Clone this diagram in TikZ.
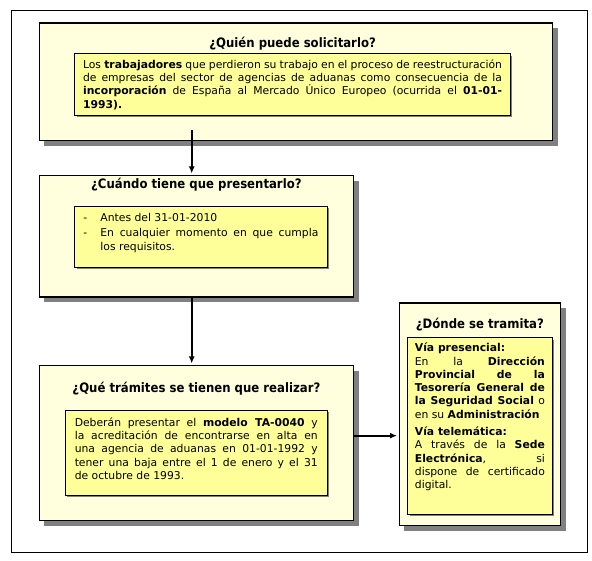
\documentclass[tikz,border=0pt]{standalone}
\usepackage{fontspec}
\setmainfont{DejaVu Sans}
\newfontfamily\titlefont{DejaVu Sans}[FakeStretch=0.9]
\usetikzlibrary{arrows.meta,positioning,shadows}
\definecolor{PaleYellow}{HTML}{FFFFDD}
\definecolor{Yellow}{HTML}{FFFF99}
\definecolor{Shadow}{HTML}{808080}
\newcommand{\listdash}{\hangindent=17pt\hangafter=1\noindent\makebox[17pt][l]{-}}
\tikzset{outerbox/.style={draw=black,line width=1.3pt,fill=PaleYellow,anchor=north west,inner sep=0pt,drop shadow={shadow xshift=5pt,shadow yshift=-5pt,fill=Shadow,opacity=1}},innerbox/.style={draw=black,line width=.8pt,fill=Yellow,anchor=north west,align=justify,inner ysep=0pt,font=\fontsize{10.8}{13.3}\selectfont,drop shadow={shadow xshift=2pt,shadow yshift=-2pt,fill=Shadow,opacity=1}},title/.style={font=\titlefont\fontsize{13}{15}\selectfont\bfseries,inner sep=0pt},flow/.style={-{Latex[length=7pt,width=6pt]},line width=1.8pt,draw=black,shorten >=1.5pt}}

\begin{document}
\begin{tikzpicture}[x=1pt,y=-1pt]
      \useasboundingbox (0,0) rectangle (592,561);
      \draw[line width=.8pt] (11.5,10.5) rectangle (587,552);
      \node[outerbox,minimum width=513.5pt,minimum height=117.5pt] (quien) at (38.5,22.5) {};
      \node[title] (quientitle) at ([xshift=-3.3pt,yshift=-20.8pt]quien.north) {¿Quién puede solicitarlo?};
      \node[innerbox,text width=419pt,inner xsep=8.35pt,minimum height=61.7pt] (quientext) at ([xshift=35.8pt,yshift=-30.8pt]quien.north west) {Los \textbf{trabajadores} que perdieron su trabajo en el proceso de reestructuración\linebreak de empresas del sector de agencias de aduanas como consecuencia de la\linebreak \textbf{incorporación} de España al Mercado Único Europeo (ocurrida el \textbf{01-01-}\linebreak \textbf{1993).}};
      \node[outerbox,minimum width=314.5pt,minimum height=121.5pt] (cuando) at (38.5,175) {};
      \node[title] (cuandotitle) at ([yshift=-10pt]cuando.north) {¿Cuándo tiene que presentarlo?};
      \node[innerbox,text width=235pt,inner xsep=8.7pt,minimum height=60.7pt] (cuandotext) at ([xshift=35.8pt,yshift=-31pt]cuando.north west) {\listdash Antes del 31-01-2010\par\vspace{1.7pt}\listdash En cualquier momento en que cumpla\linebreak los requisitos.\par\vspace{7.5pt}\hrule height 0pt};
      \node[outerbox,minimum width=314.5pt,minimum height=155pt] (que) at (38.5,365) {};
      \node[title] (quetitle) at ([yshift=-23.3pt]que.north) {¿Qué trámites se tienen que realizar?};
      \node[innerbox,text width=243pt,inner xsep=9.35pt,minimum height=85pt] (quetext) at ([xshift=26.5pt,yshift=-45pt]que.north west) {Deberán presentar el \textbf{modelo TA-0040} y\linebreak la acreditación de encontrarse en alta en\linebreak una agencia de aduanas en 01-01-1992 y\linebreak tener una baja entre el 1 de enero y el 31\linebreak de octubre de 1993.\par\vspace{8.4pt}\hrule height 0pt};
      \node[outerbox,minimum width=161.5pt,minimum height=222.7pt] (donde) at (398.5,302.3) {};
      \node[title] (dondetitle) at ([yshift=-22pt]donde.north) {¿Dónde se tramita?};
      \node[innerbox,text width=130pt,inner xsep=7.2pt,minimum height=176.7pt] (dondetext) at ([xshift=8.8pt,yshift=-35pt]donde.north west) {\textbf{Vía presencial:}\par En la \textbf{Dirección}\linebreak \textbf{Provincial de la}\linebreak \textbf{Tesorería General de}\linebreak \textbf{la Seguridad Social} o\linebreak en su \textbf{Administración}\par\vspace{4pt}\textbf{Vía telemática:}\par A través de la \textbf{Sede}\linebreak \textbf{Electrónica}, si\linebreak dispone de certificado\linebreak digital.\par\vspace{18pt}\hrule height 0pt};
      \coordinate (a1) at ([xshift=-4.7pt]cuando.north);\coordinate (a0) at (quien.south -| a1);
      \coordinate (a2) at ([xshift=-4.7pt]que.north);\coordinate (a3) at ([yshift=7.5pt]que.east);
      \draw[flow]([yshift=11pt]a0)--(a1);\draw[flow](cuando.south -| a2)--(a2);\draw[flow](a3)--(a3 -| donde.west);
    \end{tikzpicture}
\end{document}
